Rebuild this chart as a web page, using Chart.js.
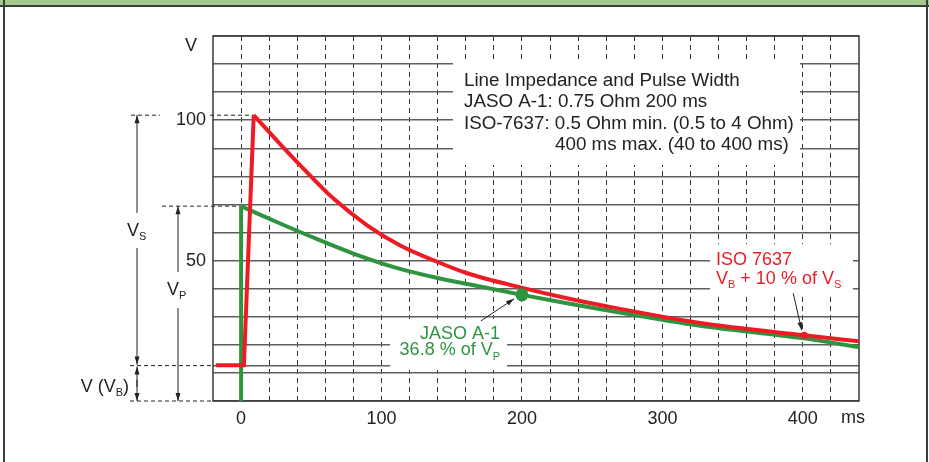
<!DOCTYPE html>
<html>
<head>
<meta charset="utf-8">
<title>Load dump pulse</title>
<script src="https://cdn.jsdelivr.net/npm/chart.js@4.4.1/dist/chart.umd.min.js"></script>
<style>
  html, body { margin: 0; padding: 0; background: #fff; }
  #wrap { position: relative; width: 929px; height: 462px; overflow: hidden; }
  #head { position: absolute; left: 0; top: 0; width: 929px; height: 5px; background: #a3cb8f; border-bottom: 2px solid #3c3c3c; }
  #edgeL { position: absolute; left: 3px; top: 0; width: 2px; height: 462px; background: #3c3c3c; }
  #edgeR { position: absolute; left: 926px; top: 0; width: 2px; height: 462px; background: #3c3c3c; }
  canvas { position: absolute; left: 0; top: 0; }
</style>
</head>
<body>
<div id="wrap">
  <canvas id="dvCanvas" width="929" height="462"></canvas>
  <div id="head"></div>
  <div id="edgeL"></div>
  <div id="edgeR"></div>
</div>
<script>
  // values (ms / V)
  var isoRiseTime = [-18, 2, 9];
  var isoRiseVolt = [12.7, 12.7, 101.8];
  var isoTime = [9, 26, 43, 66, 90, 113, 140, 161, 201, 232, 268, 327, 401, 441];
  var isoVolt = [101.8, 92.5, 83.5, 72, 62.5, 55.5, 49.5, 45.5, 40.2, 36.6, 33, 27.8, 23.4, 21.2];
  var jasoRiseTime = [0, 0];
  var jasoRiseVolt = [0, 69.4];
  var jasoTime = [0, 20, 50, 80, 110, 140, 170, 200, 232, 256, 327, 401, 442];
  var jasoVolt = [69.4, 64.9, 58.5, 52.5, 47.5, 43.8, 40.8, 37.8, 34.8, 32.7, 26.8, 22.3, 19.0];
  var jasoMark = [200, 37.8];
  var isoMark = [401, 23.4];
  var batteryVolt = 12.6;
  var gridVolts = [0, 10, 20, 30, 40, 50, 60, 70, 80, 90, 100, 110, 120, 130];
  var xTickLabels = [0, 100, 200, 300, 400];
  var yTickLabels = [50, 100];

  var RED = '#ed1c24';
  var GREEN = '#2e9440';
  var FONT = '"Liberation Sans", Arial, sans-serif';

  function pts(xs, ys) {
    return xs.map(function(x, i) { return {x: x, y: ys[i]}; });
  }

  // text with subscript parts: [[text, isSub], ...]
  function subText(ctx, parts, x, y, align, color) {
    var big = '18px ' + FONT, small = '11px ' + FONT;
    var w = 0;
    parts.forEach(function(p) { ctx.font = p[1] ? small : big; w += ctx.measureText(p[0]).width; });
    var cx = align === 'right' ? x - w : x;
    ctx.fillStyle = color;
    ctx.textAlign = 'left';
    ctx.textBaseline = 'middle';
    parts.forEach(function(p) {
      ctx.font = p[1] ? small : big;
      ctx.fillText(p[0], cx, p[1] ? y + 6 : y);
      cx += ctx.measureText(p[0]).width;
    });
  }

  function dashLine(ctx, x1, y1, x2, y2) {
    ctx.save();
    ctx.strokeStyle = '#222';
    ctx.lineWidth = 1;
    ctx.setLineDash([4, 3]);
    ctx.beginPath(); ctx.moveTo(x1, y1); ctx.lineTo(x2, y2); ctx.stroke();
    ctx.restore();
  }

  function arrow(ctx, x1, y1, x2, y2) {
    var a = Math.atan2(y2 - y1, x2 - x1);
    ctx.save();
    ctx.strokeStyle = '#222'; ctx.fillStyle = '#222'; ctx.lineWidth = 1;
    ctx.beginPath(); ctx.moveTo(x1, y1); ctx.lineTo(x2, y2); ctx.stroke();
    ctx.beginPath();
    ctx.moveTo(x2, y2);
    ctx.lineTo(x2 - 8 * Math.cos(a) + 2.5 * Math.sin(a), y2 - 8 * Math.sin(a) - 2.5 * Math.cos(a));
    ctx.lineTo(x2 - 8 * Math.cos(a) - 2.5 * Math.sin(a), y2 - 8 * Math.sin(a) + 2.5 * Math.cos(a));
    ctx.closePath(); ctx.fill();
    ctx.restore();
  }

  var notes = {
    id: 'notes',
    beforeDatasetsDraw: function(chart) {
      var ctx = chart.ctx, a = chart.chartArea;
      var xs = chart.scales.x, ys = chart.scales.y;
      ctx.save();
      // plot frame
      ctx.strokeStyle = '#3a3a3a'; ctx.lineWidth = 1.5;
      ctx.strokeRect(a.left, a.top, a.right - a.left, a.bottom - a.top);

      // white boxes behind the texts
      ctx.fillStyle = '#fff';
      ctx.fillRect(453, 63, 347, 102);
      ctx.fillRect(710, 244, 143, 52);
      ctx.fillRect(390, 319, 117, 51);

      ctx.fillStyle = '#222';
      ctx.font = '18.8px ' + FONT;
      ctx.textBaseline = 'middle';
      ctx.textAlign = 'left';
      ctx.fillText('Line Impedance and Pulse Width', 464, 80.5);
      ctx.fillText('JASO A-1: 0.75 Ohm 200 ms', 464, 102);
      ctx.fillText('ISO-7637: 0.5 Ohm min. (0.5 to 4 Ohm)', 464, 123.5);
      ctx.fillText('400 ms max. (40 to 400 ms)', 555, 145);

      ctx.font = '18px ' + FONT;
      ctx.fillStyle = RED;
      ctx.fillText('ISO 7637', 716, 260.5);
      subText(ctx, [['V', 0], ['B', 1], [' + 10 % of V', 0], ['S', 1]], 716, 279, 'left', RED);

      ctx.font = '18px ' + FONT;
      ctx.fillStyle = GREEN;
      ctx.textAlign = 'right';
      ctx.fillText('JASO A-1', 500, 334);
      subText(ctx, [['36.8 % of V', 0], ['P', 1]], 500, 350.5, 'right', GREEN);

      // axis captions
      ctx.fillStyle = '#222';
      ctx.font = '18px ' + FONT;
      ctx.textAlign = 'center';
      ctx.fillText('V', 191, 46);
      ctx.fillText('ms', 853, 418);

      // left side measuring lines
      var peakY = ys.getPixelForValue(isoRiseVolt[2]);
      var vpY = ys.getPixelForValue(jasoRiseVolt[1]);
      var vbY = ys.getPixelForValue(batteryVolt);
      var zeroY = ys.getPixelForValue(0);
      var peakX = xs.getPixelForValue(isoRiseTime[2]);
      var vpX = xs.getPixelForValue(jasoRiseTime[1]);
      dashLine(ctx, 131, peakY, 160, peakY);
      dashLine(ctx, 210, peakY, peakX, peakY);
      dashLine(ctx, 162, vpY, vpX, vpY);
      dashLine(ctx, 130, vbY, a.left, vbY);
      dashLine(ctx, 130, zeroY, a.left, zeroY);

      arrow(ctx, 137, 213, 137, peakY);
      arrow(ctx, 137, 248, 137, vbY - 1);
      arrow(ctx, 178, 272, 178, vpY);
      arrow(ctx, 178, 308, 178, zeroY);
      arrow(ctx, 137, zeroY - 14, 137, vbY + 1);
      arrow(ctx, 137, vbY + 14, 137, zeroY);

      subText(ctx, [['V', 0], ['S', 1]], 127, 231, 'left', '#222');
      subText(ctx, [['V', 0], ['P', 1]], 167, 290, 'left', '#222');
      subText(ctx, [['V (V', 0], ['B', 1], [')', 0]], 129, 387, 'right', '#222');
      ctx.restore();
    },
    afterDatasetsDraw: function(chart) {
      var ctx = chart.ctx;
      var xs = chart.scales.x, ys = chart.scales.y;
      var jx = xs.getPixelForValue(jasoMark[0]), jy = ys.getPixelForValue(jasoMark[1]);
      var ix = xs.getPixelForValue(isoMark[0]), iy = ys.getPixelForValue(isoMark[1]);
      arrow(ctx, jx - 41, jy + 26, jx - 8, jy + 4);
      arrow(ctx, ix - 11, iy - 42, ix - 2.5, iy - 5);
    }
  };

  var ctx = document.getElementById('dvCanvas').getContext('2d');
  var myChart = new Chart(ctx, {
    type: 'line',
    data: {
      datasets: [
        { data: pts([isoMark[0]], [isoMark[1]]), showLine: false, pointRadius: 3.5, pointBackgroundColor: RED, pointBorderWidth: 0 },
        { data: pts([jasoMark[0]], [jasoMark[1]]), showLine: false, pointRadius: 6.5, pointBackgroundColor: GREEN, pointBorderWidth: 0 },
        { data: pts(isoTime, isoVolt), borderColor: RED, borderWidth: 4, pointRadius: 0, cubicInterpolationMode: 'monotone' },
        { data: pts(isoRiseTime, isoRiseVolt), borderColor: RED, borderWidth: 4, pointRadius: 0, tension: 0 },
        { data: pts(jasoTime, jasoVolt), borderColor: GREEN, borderWidth: 4, pointRadius: 0, cubicInterpolationMode: 'monotone' },
        { data: pts(jasoRiseTime, jasoRiseVolt), borderColor: GREEN, borderWidth: 4, pointRadius: 0, tension: 0 }
      ]
    },
    options: {
      responsive: false,
      animation: false,
      events: [],
      layout: { padding: { top: 36, right: 70, left: 0, bottom: 0 } },
      plugins: { legend: { display: false }, tooltip: { enabled: false } },
      scales: {
        x: {
          type: 'linear', min: -20, max: 440,
          afterFit: function(s) { s.height = 61; },
          ticks: {
            stepSize: 20, autoSkip: false, maxRotation: 0, padding: 7,
            color: '#222', font: { family: FONT, size: 18 },
            callback: function(v) { return xTickLabels.indexOf(v) >= 0 ? String(v) : ''; }
          },
          grid: {
            drawTicks: false, lineWidth: 1,
            color: function(c) { return (c.tick && (c.tick.value === -20 || c.tick.value === 440)) ? 'rgba(0,0,0,0)' : '#333'; }
          },
          border: { display: false, dash: [5, 4] }
        },
        y: {
          type: 'linear', min: 0, max: 130,
          afterFit: function(s) { s.width = 213; },
          afterBuildTicks: function(s) {
            s.ticks = gridVolts.concat([batteryVolt]).map(function(v) { return {value: v}; });
          },
          ticks: {
            padding: 7, color: '#222', font: { family: FONT, size: 18 },
            callback: function(v) { return yTickLabels.indexOf(v) >= 0 ? String(v) : ''; }
          },
          grid: { drawTicks: false, lineWidth: 1.5, color: '#5e5e5e' },
          border: { display: false }
        }
      }
    },
    plugins: [notes]
  });
</script>
</body>
</html>
